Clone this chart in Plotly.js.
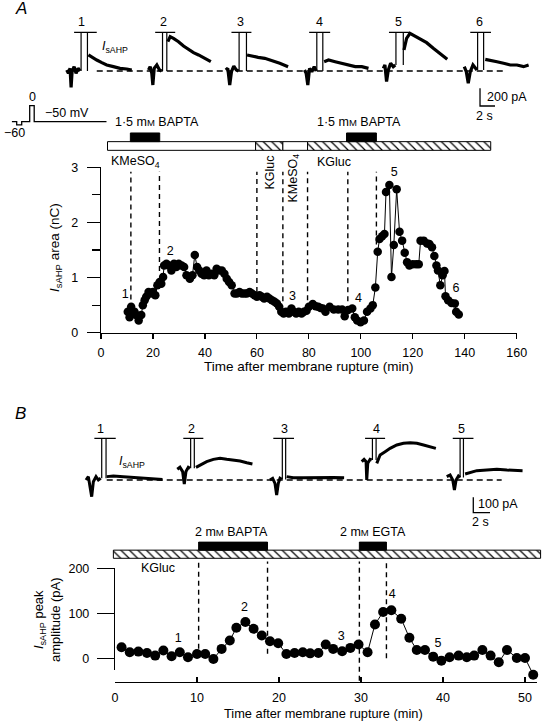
<!DOCTYPE html>
<html><head><meta charset="utf-8">
<script src="https://cdn.plot.ly/plotly-3.0.1.min.js"></script>
<style>html,body{margin:0;padding:0;background:#fff}#chart{width:542px;height:723px}</style>
</head><body><div id="chart"></div><script>
// ================= DATA =================
// Panel A summary: IsAHP area (nC) vs time after membrane rupture (min)
const aTime = [10.3,11.0,11.6,12.3,12.9,13.5,14.5,15.5,16.1,16.8,17.4,18.3,19.1,20.0,20.9,21.7,22.6,23.2,23.9,24.3,25.2,26.0,27.1,28.1,29.0,29.9,31.0,32.0,32.9,34.2,35.2,36.1,37.0,37.8,38.7,39.7,40.6,41.5,42.6,43.6,44.5,45.4,46.5,47.5,48.4,49.3,50.3,51.4,52.3,53.3,54.2,55.2,56.1,57.2,58.1,59.1,60.0,61.0,61.9,62.8,63.9,64.8,65.8,66.8,67.7,68.6,69.4,70.3,71.2,72.3,73.3,74.2,75.1,76.1,77.2,78.1,79.1,80.0,81.5,82.6,83.6,84.5,85.4,86.4,88.0,89.6,91.3,92.8,93.8,95.1,96.7,97.7,98.6,99.9,101.2,102.4,103.7,104.6,105.6,106.5,107.2,108.2,109.1,109.7,111.0,111.8,112.7,113.8,114.9,115.9,116.9,117.8,118.7,120.0,121.3,122.3,123.0,124.2,125.5,126.4,127.4,128.3,129.1,129.7,130.6,131.5,132.2,132.6,133.6,134.9,136.2,136.7,137.7];
const aArea = [0.38,0.28,0.47,0.35,0.38,0.32,0.22,0.32,0.50,0.59,0.65,0.74,0.71,0.74,0.68,0.86,0.92,0.89,1.01,1.22,1.25,1.22,1.13,1.25,1.19,1.25,1.22,1.19,1.04,0.98,1.04,1.41,1.19,1.13,1.07,1.04,1.13,1.04,1.07,1.04,1.16,1.13,1.13,1.07,0.98,0.92,0.86,0.71,0.71,0.74,0.71,0.71,0.71,0.74,0.71,0.68,0.65,0.68,0.65,0.62,0.65,0.62,0.59,0.56,0.53,0.47,0.38,0.35,0.38,0.35,0.44,0.38,0.35,0.38,0.35,0.38,0.40,0.47,0.52,0.48,0.47,0.45,0.44,0.38,0.47,0.42,0.42,0.42,0.30,0.41,0.44,0.28,0.22,0.19,0.22,0.38,0.44,0.50,0.82,1.47,1.70,1.75,1.79,2.55,2.68,1.01,1.59,2.60,1.83,1.67,1.45,1.28,1.22,1.24,1.24,1.24,1.67,1.67,1.62,1.61,1.55,1.39,1.22,1.13,0.86,1.04,1.12,0.66,0.59,0.54,0.53,0.38,0.33];
const aNumLabel = ['1','2','3','4','5','6'];
const aNumT = [9.3, 26.6, 73.7, 99.1, 112.9, 136.6];
const aNumV = [0.68, 1.47, 0.65, 0.62, 2.89, 0.79];
const aSolStart = [2.5, 59.5, 70, 79.5];
const aSolEnd = [59.5, 70, 79.5, 150];
const aSolHatched = [false, true, false, true];
const aBaptaStart = [11.3, 94.5];
const aBaptaEnd = [22.6, 106];
const aDashT = [11.5, 22.5, 60, 70, 79.5, 95, 106];
const aDashBottom = [0.6, 1.12, 0.74, 0.57, 0.59, 0.57, 1.6];
const aDashTop = 2.92;

// Panel A current sweeps (time s, current pA)
const aPreT = [[0,0.22,0.44,0.58,0.71,0.98,1.24,1.51,1.78],[0,0.22,0.44,0.58,0.76,1.11,1.47,1.73],[0,0.27,0.53,0.76,1.07,1.42,1.69],[0,0.22,0.44,0.67,0.98,1.29,1.56],[0,0.22,0.44,0.67,0.98,1.33,1.6],[0,0.27,0.53,0.8,1.16,1.47,1.69]];
const aPreI = [[11,-26,30,-185,-8,49,-26,30,0],[11,49,-26,-158,30,68,11,0],[11,30,-158,-8,56,11,0],[11,-26,-158,30,-8,49,0],[30,68,-120,11,87,49,68],[49,-8,-139,-8,68,30,11]];
const aPostT = [[2.89,3.33,4.0,4.67,5.33,6.22,7.1,8.0,8.67],[2.58,2.89,3.33,4.0,4.67,5.33,6.0,6.67,7.33,7.78,8.31],[2.84,3.42,4.31,5.2,6.09,6.76,7.2,8.31],[2.62,3.2,4.09,4.98,5.87,6.76,7.64,8.53],[2.76,3.11,3.56,4.22,4.89,5.78,6.67,7.56,8.53],[2.8,3.47,4.36,5.24,6.13,7.02,7.91,8.58]];
const aPostI = [[181,154,124,94,68,49,30,23,11],[331,388,369,331,282,245,207,181,154,132,105],[181,169,154,143,117,105,87,49],[105,124,105,87,68,49,49,30],[237,369,425,395,369,320,256,200,132],[132,117,105,87,68,68,49,68]];
const aArtOn = [1.91,1.87,1.78,1.64,1.69,1.78];
const aArtOff = [2.76,2.44,2.76,2.44,2.67,2.58];
const aClipStart = [0.98,0.89,0.76,0.62,0.76,0.8];
const aClipEnd = [4.0,3.56,3.42,3.42,3.47,3.56];
const aClipLevel = 437;

// Voltage protocol (ms, mV)
const protoT = [0,50,50,100,100,180,180,225,225,950];
const protoV = [-50,-50,-60,-60,-50,-50,0,0,-50,-50];

// Panel B summary: IsAHP peak amplitude (pA) vs time (min)
const bTime = [0.8,1.8,2.85,3.9,4.9,5.9,6.9,7.9,8.9,10.0,11.0,12.0,13.0,14.0,14.8,15.9,16.9,17.9,18.9,19.9,20.9,21.9,22.9,23.8,24.8,25.7,26.6,27.7,28.7,29.7,30.8,31.7,32.7,33.7,34.9,35.9,36.8,37.8,38.8,39.8,40.8,41.9,42.9,43.8,44.8,45.8,46.8,47.8,49.0,50.0,51.0];
const bAmp = [24.6,13.4,14.9,11.9,6.0,17.2,4.5,13.4,2.2,9.7,9.7,-1.5,20.9,39.5,67.9,80.5,65.6,50.7,38.0,33.6,9.7,11.9,13.4,11.0,11.9,30.6,20.9,15.7,23.1,30.6,13.4,75.3,102.9,106.6,88.0,45.5,18.6,18.6,3.7,-5.2,2.2,6.0,2.2,6.0,18.6,6.0,-8.9,18.6,0.7,0.7,-36.5];
const bNumLabel = ['1','2','3','4','5'];
const bNumT = [7.7, 15.8, 27.6, 33.8, 39.4];
const bNumV = [43, 113, 47, 140, 32];
const bSolStart = [-0.2];
const bSolEnd = [51.9];
const bDrugStart = [10.2, 29.8];
const bDrugEnd = [18.6, 33.1];
const bDashT = [10.2, 18.6, 29.8, 33.1];
const bDashBottom = [21, 10, -50, 0];
const bDashTop = 215;

// Panel B current sweeps
const bPreT = [[0,0.28,0.48,0.68,0.88,1.2,1.48,1.76],[0,0.32,0.64,0.84,1.04,1.32,1.52],[0,0.32,0.6,0.8,1.0,1.2,1.4],[0,0.28,0.52,0.6,0.72,1.0,1.2],[0,0.4,0.72,0.92,1.12,1.4,1.6]];
const bPreI = [[0,22,-44,-109,-11,22,0,11],[70,83,55,-26,55,83,76],[0,11,-22,-98,-22,11,4],[120,135,120,0,109,135,131],[22,33,0,-65,0,26,17]];
const bPostT = [[2.48,3.28,4.48,5.68,6.88,8.08,9.16],[2.24,2.72,3.52,4.32,5.12,5.92,6.72,7.52,8.32,9.0],[2.0,2.8,4.0,5.2,6.4,7.6,8.88],[1.8,2.2,2.8,3.4,4.2,5.0,5.8,6.6,7.4,8.2,8.88],[2.2,2.8,3.6,4.8,6.0,7.2,8.4,9.08]];
const bPostI = [[22,26,22,17,11,7,4],[83,98,120,135,142,135,131,124,113,105],[22,15,15,17,15,17,15],[109,164,185,207,229,240,244,240,229,218,207],[39,48,61,65,70,65,61,61]];
const bArtOn = [1.88,1.6,1.48,1.28,1.6];
const bArtOff = [2.4,2.04,1.88,1.72,2.0];
const bClipStart = [1.0,0.72,0.4,0.4,0.72];
const bClipEnd = [3.56,3.12,2.88,2.8,3.2];
const bClipLevel = 272;

// ================= LAYOUT CONSTANTS =================
const W = 542, H = 723;
const FONT = 'Liberation Sans, Arial, Helvetica, sans-serif';
const SWEEP_OFFSET_A = [0.9, 11.8, 22.1, 32.6, 43.1, 53.9];
const SWEEP_OFFSET_B = [0.72, 11.65, 22.75, 33.74, 43.92];
const domX = (a, b) => [a / W, b / W];
const domY = (top, bottom) => [1 - bottom / H, 1 - top / H];
function extRange(r, dom, nd) {
  const s = (r[1] - r[0]) / (dom[1] - dom[0]);
  return [r[0] + (nd[0] - dom[0]) * s, r[0] + (nd[1] - dom[0]) * s];
}

const traces = [];
const K = '#000';

function addSweeps(preT, preI, postT, postI, on, off, c0, c1, top, offs, xa, ya, lw) {
  for (let k = 0; k < preT.length; k++) {
    const o = offs[k];
    traces.push({type:'scatter', mode:'lines', xaxis:xa, yaxis:ya,
      x: preT[k].map(t => t + o).concat([null], postT[k].map(t => t + o)),
      y: preI[k].concat([null], postI[k]),
      line:{color:K, width:lw}, connectgaps:false, hoverinfo:'skip', showlegend:false});
    const last = preI[k][preI[k].length - 1];
    traces.push({type:'scatter', mode:'lines', xaxis:xa, yaxis:ya,
      x:[on[k]+o, on[k]+o, null, c0[k]+o, c1[k]+o, null, off[k]+o, off[k]+o],
      y:[last, top, null, top, top, null, top, last],
      line:{color:K, width:1.2}, connectgaps:false, hoverinfo:'skip', showlegend:false});
  }
}

function dashTrace(ts, bottoms, top, xa, ya) {
  const x = [], y = [];
  ts.forEach((t, i) => { x.push(t, t, null); y.push(bottoms[i], top, null); });
  return {type:'scatter', mode:'lines', x, y, xaxis:xa, yaxis:ya, connectgaps:false,
    line:{color:K, width:1.4, dash:'5px,4px'}, hoverinfo:'skip', showlegend:false};
}

// --- Sweep baselines (dashed) ---
traces.push({type:'scatter', mode:'lines', x:[4.9, 59.1], y:[0, 0], xaxis:'x2', yaxis:'y2',
  line:{color:K, width:1.6, dash:'6px,4px'}, hoverinfo:'skip', showlegend:false});
traces.push({type:'scatter', mode:'lines', x:[3.2, 50.5], y:[0, 0], xaxis:'x3', yaxis:'y3',
  line:{color:K, width:1.6, dash:'6px,4px'}, hoverinfo:'skip', showlegend:false});

addSweeps(aPreT, aPreI, aPostT, aPostI, aArtOn, aArtOff, aClipStart, aClipEnd, aClipLevel, SWEEP_OFFSET_A, 'x2', 'y2', 3.2);
addSweeps(bPreT, bPreI, bPostT, bPostI, bArtOn, bArtOff, bClipStart, bClipEnd, bClipLevel, SWEEP_OFFSET_B, 'x3', 'y3', 3.0);

// scale bars
traces.push({type:'scatter', mode:'lines', x:[56, 56, 58], y:[-195, -395, -395], xaxis:'x2', yaxis:'y2',
  line:{color:K, width:1.3}, hoverinfo:'skip', showlegend:false});
traces.push({type:'scatter', mode:'lines', x:[47.1, 47.1, 49.1], y:[-113, -213, -213], xaxis:'x3', yaxis:'y3',
  line:{color:K, width:1.3}, hoverinfo:'skip', showlegend:false});

// voltage protocol
traces.push({type:'scatter', mode:'lines', x:protoT, y:protoV, xaxis:'x4', yaxis:'y4',
  line:{color:K, width:1.3}, hoverinfo:'skip', showlegend:false});

// --- Panel A summary ---
traces.push(dashTrace(aDashT, aDashBottom, aDashTop, 'x', 'y'));
traces.push({type:'scatter', mode:'lines+markers', x:aTime, y:aArea, xaxis:'x', yaxis:'y',
  line:{color:K, width:1}, marker:{color:K, size:8.5}, cliponaxis:false, hoverinfo:'skip', showlegend:false});
traces.push({type:'scatter', mode:'text', x:aNumT, y:aNumV, text:aNumLabel, xaxis:'x', yaxis:'y',
  textfont:{size:12.5, color:K, family:FONT}, cliponaxis:false, hoverinfo:'skip', showlegend:false});
traces.push({type:'bar', orientation:'h', xaxis:'x', yaxis:'y5',
  base:aSolStart, x:aSolEnd.map((e, i) => e - aSolStart[i]), y:aSolStart.map(() => 0.5), width:aSolStart.map(() => 1),
  marker:{color:'#fff', line:{color:K, width:1},
    pattern:{shape:aSolHatched.map(h => h ? '\\' : ''), fgcolor:K, bgcolor:'#fff', size:6, solidity:0.2}},
  hoverinfo:'skip', showlegend:false});
traces.push({type:'bar', orientation:'h', xaxis:'x', yaxis:'y5',
  base:aBaptaStart, x:aBaptaEnd.map((e, i) => e - aBaptaStart[i]), y:aBaptaStart.map(() => 1.5), width:aBaptaStart.map(() => 1),
  marker:{color:K, line:{color:K, width:1}}, hoverinfo:'skip', showlegend:false});

// --- Panel B summary ---
// empty trace so that the visible B axes (x6 / y6) get their own subplot
traces.push({type:'scatter', mode:'markers', x:[], y:[], xaxis:'x6', yaxis:'y6', hoverinfo:'skip', showlegend:false});
traces.push(dashTrace(bDashT, bDashBottom, bDashTop, 'x6', 'y7'));
traces.push({type:'scatter', mode:'lines+markers', x:bTime, y:bAmp, xaxis:'x6', yaxis:'y7',
  line:{color:K, width:1}, marker:{color:K, size:10}, cliponaxis:false, hoverinfo:'skip', showlegend:false});
traces.push({type:'scatter', mode:'text', x:bNumT, y:bNumV, text:bNumLabel, xaxis:'x6', yaxis:'y7',
  textfont:{size:12.5, color:K, family:FONT}, cliponaxis:false, hoverinfo:'skip', showlegend:false});
traces.push({type:'bar', orientation:'h', xaxis:'x8', yaxis:'y8',
  base:bSolStart, x:bSolEnd.map((e, i) => e - bSolStart[i]), y:bSolStart.map(() => 0.5), width:bSolStart.map(() => 1),
  marker:{color:'#fff', line:{color:K, width:1},
    pattern:{shape:'\\', fgcolor:K, bgcolor:'#fff', size:6, solidity:0.2}},
  hoverinfo:'skip', showlegend:false});
traces.push({type:'bar', orientation:'h', xaxis:'x8', yaxis:'y8',
  base:bDrugStart, x:bDrugEnd.map((e, i) => e - bDrugStart[i]), y:bDrugStart.map(() => 1.5), width:bDrugStart.map(() => 1),
  marker:{color:K, line:{color:K, width:1}}, hoverinfo:'skip', showlegend:false});

// ================= ANNOTATIONS =================
function ann(text, x, y, o = {}) {
  return Object.assign({text, x:x / W, y:1 - y / H, xref:'paper', yref:'paper', showarrow:false,
    xanchor:'center', yanchor:'middle', font:{family:FONT, size:12.5, color:K}}, o);
}
const ISAHP = '<i>I</i><sub>sAHP</sub>';
const MM = 'm<span style="font-size:9.5px">M</span>';
const annotations = [
  ann('<i>A</i>', 20.7, 9, {font:{family:FONT, size:17, color:K}}),
  ann('<i>B</i>', 20, 413.3, {font:{family:FONT, size:17, color:K}}),
  ann(ISAHP, 100, 46.7, {xanchor:'left'}),
  ann(ISAHP, 116.7, 461.7, {xanchor:'left'}),
  ann('200 pA', 485, 97, {xanchor:'left'}),
  ann('2 s', 484, 116),
  ann('100 pA', 476, 504, {xanchor:'left'}),
  ann('2 s', 480, 522),
  ann('0', 32.3, 96.7),
  ann('\u221250 mV', 67.3, 112.7),
  ann('\u221260', 14, 133),
  ann('1\u00b75 ' + MM + ' BAPTA', 156.7, 122.3),
  ann('1\u00b75 ' + MM + ' BAPTA', 359, 122.3),
  ann('KMeSO<sub>4</sub>', 135, 162),
  ann('KGluc', 334, 162),
  ann('KGluc', 269.5, 173, {textangle:-90}),
  ann('KMeSO<sub>4</sub>', 293.5, 178, {textangle:-90}),
  ann(ISAHP + ' area (nC)', 55, 248, {textangle:-90, font:{family:FONT, size:13.5, color:K}}),
  ann('Time after membrane rupture (min)', 309, 366, {font:{family:FONT, size:13.5, color:K}}),
  ann('2 ' + MM + ' BAPTA', 231.7, 531.7),
  ann('2 ' + MM + ' EGTA', 372.7, 531.7),
  ann('KGluc', 157.5, 568.3),
  ann(ISAHP + ' peak<br>amplitude (pA)', 47, 620, {textangle:-90, font:{family:FONT, size:13, color:K}}),
  ann('Time after membrane rupture (min)', 323, 713, {font:{family:FONT, size:12.8, color:K}})
];
SWEEP_OFFSET_A.forEach((o, i) => annotations.push({text:String(i + 1), x:o + 2.0, xref:'x2', y:1 - 21.7 / H, yref:'paper',
  showarrow:false, xanchor:'center', yanchor:'middle', font:{family:FONT, size:12.5, color:K}}));
SWEEP_OFFSET_B.forEach((o, i) => annotations.push({text:String(i + 1), x:o + 1.75, xref:'x3', y:1 - 429.3 / H, yref:'paper',
  showarrow:false, xanchor:'center', yanchor:'middle', font:{family:FONT, size:12.5, color:K}}));

// ================= AXES =================
const hidden = {visible:false, fixedrange:true, showgrid:false, zeroline:false};
const axStyle = {showline:true, linecolor:K, linewidth:1.2, tickcolor:K, tickwidth:1.2, showgrid:false, zeroline:false,
  fixedrange:true, tickfont:{family:FONT, size:12.5, color:K}};

const bYdom = domY(568.3, 670), bYrange = [-26, 200];
const bXdom = domX(115, 536.5), bXrange = [0, 51.4];
const y7dom = domY(530, 700);
const x8dom = domX(112, 542);

const layout = {
  width:W, height:H, margin:{l:0, r:0, t:0, b:0}, paper_bgcolor:'#fff', plot_bgcolor:'rgba(0,0,0,0)',
  showlegend:false, barmode:'overlay', font:{family:FONT, size:12.5, color:K},
  xaxis: Object.assign({}, axStyle, {domain:domX(101, 516.7), range:[0, 160], anchor:'y', ticks:'outside', ticklen:5,
    tick0:0, dtick:20, ticklabelstandoff:3}),
  yaxis: Object.assign({}, axStyle, {domain:domY(167.3, 332.7), range:[0, 3], anchor:'x', ticks:'outside', ticklen:13,
    tick0:0, dtick:1, ticklabelstandoff:6,
    minor:{ticks:'outside', ticklen:8, dtick:0.5, tick0:0, tickcolor:K, tickwidth:1.2, showgrid:false}}),
  yaxis5: Object.assign({}, hidden, {domain:domY(132.1, 151.2), range:[-0.1, 2.1], anchor:'x'}),
  xaxis2: Object.assign({}, hidden, {domain:domX(60, 535), range:[0, 63.33], anchor:'y2'}),
  yaxis2: Object.assign({}, hidden, {domain:domY(21.4, 108.2), range:[-420, 560], anchor:'x2'}),
  xaxis3: Object.assign({}, hidden, {domain:domX(80, 535), range:[0, 54.49], anchor:'y3'}),
  yaxis3: Object.assign({}, hidden, {domain:domY(428, 516.7), range:[-240, 340], anchor:'x3'}),
  xaxis4: Object.assign({}, hidden, {domain:domX(11.7, 106.7), range:[0, 950], anchor:'y4'}),
  yaxis4: Object.assign({}, hidden, {domain:domY(104.1, 126.5), range:[-65, 5], anchor:'x4'}),
  xaxis6: Object.assign({}, axStyle, {domain:bXdom, range:bXrange, anchor:'free', position:1 - 681.7 / H,
    ticks:'inside', ticklen:5, tick0:0, dtick:10, ticklabelstandoff:4}),
  yaxis6: Object.assign({}, axStyle, {domain:bYdom, range:bYrange, anchor:'x6', ticks:'outside', ticklen:17,
    tick0:0, dtick:100, ticklabelstandoff:5}),
  yaxis7: Object.assign({}, hidden, {domain:y7dom, range:extRange(bYrange, bYdom, y7dom), anchor:'x6'}),
  xaxis8: Object.assign({}, hidden, {domain:x8dom, range:extRange(bXrange, bXdom, x8dom), anchor:'y8'}),
  yaxis8: Object.assign({}, hidden, {domain:domY(541.2, 559.1), range:[-0.1, 2.1], anchor:'x8'}),
  annotations
};

Plotly.newPlot('chart', traces, layout, {staticPlot:true, displayModeBar:false});
</script></body></html>
